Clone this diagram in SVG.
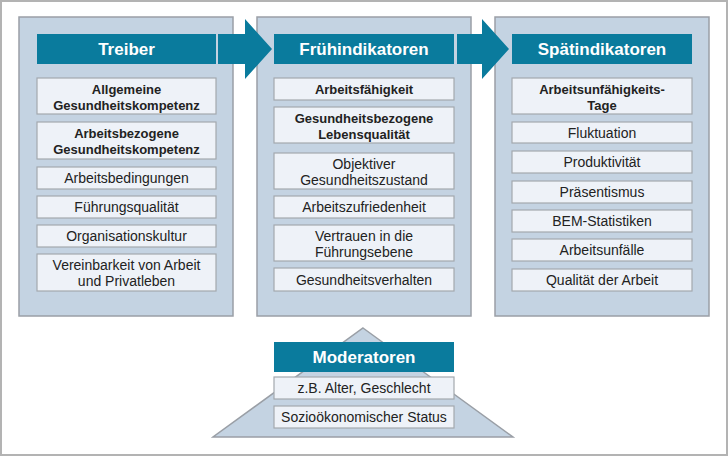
<svg xmlns="http://www.w3.org/2000/svg" width="728" height="456" viewBox="0 0 728 456">
<defs>
<style>
.frame{fill:#fff;stroke:#b3b3b3;stroke-width:2}
.panel{fill:#c4d3e2;stroke:#9a9fa6;stroke-width:1.5}
.head{fill:#0a7b9d}
.htxt{font-family:"Liberation Sans",Arial,sans-serif;font-weight:bold;font-size:17px;fill:#fff;text-anchor:middle}
.item{fill:#eef2f8;stroke:#a3a8ae;stroke-width:1.2}
.t{font-family:"Liberation Sans",Arial,sans-serif;font-size:14px;fill:#222;text-anchor:middle}
.b{font-weight:bold;font-size:13px}
.arrow{fill:#0a7b9d}
.tri{fill:#c4d3e2;stroke:#9a9fa6;stroke-width:1.5}
</style>
</defs>
<rect class="frame" x="1" y="1" width="726" height="454"/>

<g id="treiber">
<rect class="panel" x="19" y="17" width="214" height="299"/>
<rect class="head" x="37" y="34" width="179" height="30"/>
<text class="htxt" x="126.5" y="55">Treiber</text>
<rect class="item" x="37" y="78" width="179" height="36"/>
<text class="t b" x="126.5" y="94">Allgemeine</text>
<text class="t b" x="126.5" y="109.5">Gesundheitskompetenz</text>
<rect class="item" x="37" y="122" width="179" height="37"/>
<text class="t b" x="126.5" y="138">Arbeitsbezogene</text>
<text class="t b" x="126.5" y="153.5">Gesundheitskompetenz</text>
<rect class="item" x="37" y="167" width="179" height="22"/>
<text class="t" x="126.5" y="183">Arbeitsbedingungen</text>
<rect class="item" x="37" y="196" width="179" height="22"/>
<text class="t" x="126.5" y="212">Führungsqualität</text>
<rect class="item" x="37" y="225" width="179" height="22"/>
<text class="t" x="126.5" y="241">Organisationskultur</text>
<rect class="item" x="37" y="254" width="179" height="37"/>
<text class="t" x="126.5" y="270">Vereinbarkeit von Arbeit</text>
<text class="t" x="126.5" y="286">und Privatleben</text>
</g>

<g id="fruehindikatoren">
<rect class="panel" x="257" y="17" width="214" height="299"/>
<rect class="head" x="274" y="34" width="180" height="30"/>
<text class="htxt" x="364" y="55">Frühindikatoren</text>
<rect class="item" x="274" y="78" width="180" height="22"/>
<text class="t b" x="364" y="93.5">Arbeitsfähigkeit</text>
<rect class="item" x="274" y="107" width="180" height="36"/>
<text class="t b" x="364" y="123">Gesundheitsbezogene</text>
<text class="t b" x="364" y="138.5">Lebensqualität</text>
<rect class="item" x="274" y="153" width="180" height="36"/>
<text class="t" x="364" y="169">Objektiver</text>
<text class="t" x="364" y="185">Gesundheitszustand</text>
<rect class="item" x="274" y="196" width="180" height="22"/>
<text class="t" x="364" y="212">Arbeitszufriedenheit</text>
<rect class="item" x="274" y="225" width="180" height="36"/>
<text class="t" x="364" y="241">Vertrauen in die</text>
<text class="t" x="364" y="257">Führungsebene</text>
<rect class="item" x="274" y="268" width="180" height="23"/>
<text class="t" x="364" y="284.5">Gesundheitsverhalten</text>
</g>

<g id="spaetindikatoren">
<rect class="panel" x="495" y="17" width="214" height="299"/>
<rect class="head" x="512" y="34" width="180" height="30"/>
<text class="htxt" x="602" y="55">Spätindikatoren</text>
<rect class="item" x="512" y="78" width="180" height="36"/>
<text class="t b" x="602" y="94">Arbeitsunfähigkeits-</text>
<text class="t b" x="602" y="109.5">Tage</text>
<rect class="item" x="512" y="122" width="180" height="21"/>
<text class="t" x="602" y="137.5">Fluktuation</text>
<rect class="item" x="512" y="151" width="180" height="22"/>
<text class="t" x="602" y="167">Produktivität</text>
<rect class="item" x="512" y="181" width="180" height="22"/>
<text class="t" x="602" y="197">Präsentismus</text>
<rect class="item" x="512" y="210" width="180" height="22"/>
<text class="t" x="602" y="226">BEM-Statistiken</text>
<rect class="item" x="512" y="239" width="180" height="22"/>
<text class="t" x="602" y="255">Arbeitsunfälle</text>
<rect class="item" x="512" y="269" width="180" height="22"/>
<text class="t" x="602" y="285">Qualität der Arbeit</text>
</g>

<g id="connectors">
<polygon class="arrow" points="218,34 245,34 245,19 272,49 245,79 245,64 218,64"/>
<polygon class="arrow" points="457,34 482,34 482,19 509,49 482,79 482,64 457,64"/>
</g>

<g id="moderatoren">
<polygon class="tri" points="363,328 513,437 213,437"/>
<rect class="head" x="274" y="342" width="180" height="30"/>
<text class="htxt" x="364" y="363">Moderatoren</text>
<rect class="item" x="274" y="377" width="180" height="22"/>
<text class="t" x="364" y="393">z.B. Alter, Geschlecht</text>
<rect class="item" x="274" y="406" width="180" height="22"/>
<text class="t" x="364" y="422">Sozioökonomischer Status</text>
</g>
</svg>
